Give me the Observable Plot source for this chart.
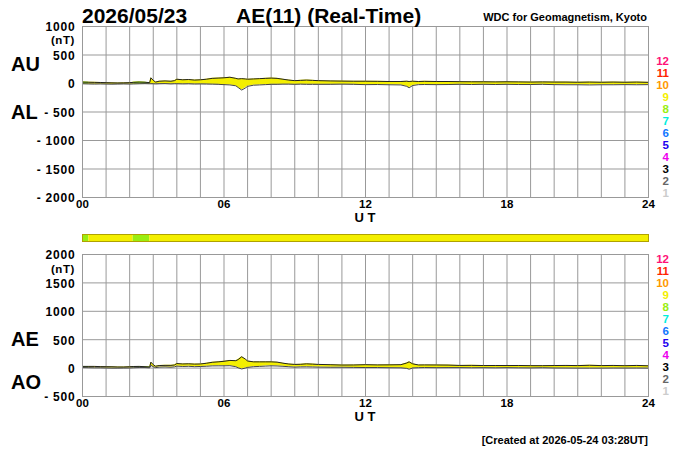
<!DOCTYPE html>
<html><head><meta charset="utf-8">
<script src="https://cdn.jsdelivr.net/npm/d3@7"></script>
<script src="https://cdn.jsdelivr.net/npm/@observablehq/plot@0.6"></script>
<style>
body{margin:0;background:#fff;}
#wrap{position:relative;width:700px;height:450px;overflow:hidden;font-family:"Liberation Sans",Arial,Helvetica,sans-serif;}
#wrap svg{position:absolute;left:0;}
</style></head><body><div id="wrap"></div>
<script>
// ---- data (UT hours, nT) ----
const hours = [0,0.27,0.5,0.75,1,1.25,1.5,1.75,2,2.15,2.4,2.65,2.85,2.9,3,3.1,3.25,3.5,3.75,3.9,4,4.25,4.5,4.75,5,5.25,5.5,5.75,6,6.25,6.5,6.6,6.75,6.9,7,7.25,7.5,7.75,8,8.25,8.5,8.75,9,9.25,9.5,9.75,10,10.5,11,11.5,12,12.5,13,13.5,13.75,13.85,14,14.25,14.5,15,15.5,16,16.5,17,17.5,18,18.5,19,19.5,20,20.5,21,21.5,22,22.5,23,23.5,24];
const au = [25,22,20,18,15,12,10,12,15,20,25,22,15,100,55,25,40,45,40,50,75,65,70,60,65,75,90,95,100,110,90,80,85,80,75,80,85,90,95,90,75,60,50,55,60,55,50,45,42,40,40,38,35,35,40,35,40,35,38,35,35,32,30,30,28,30,28,25,28,25,25,22,25,22,25,22,25,20];
const al = [-5,-8,-10,-8,-10,-12,-10,-8,-10,-8,-5,-3,-5,-5,-5,-8,-5,-3,-8,-5,-5,-8,-6,-10,-8,-10,-12,-15,-20,-25,-40,-70,-115,-80,-50,-30,-25,-20,-15,-15,-12,-12,-15,-12,-15,-15,-15,-15,-12,-15,-20,-18,-22,-25,-50,-75,-35,-20,-18,-20,-18,-15,-18,-15,-18,-15,-18,-18,-15,-20,-22,-22,-25,-22,-22,-20,-22,-20];
// number of contributing stations
const segStart = [0, 0.27, 2.15, 2.85];
const segEnd   = [0.27, 2.15, 2.85, 24];
const segCount = [8, 9, 8, 9];
const legendNums = [12,11,10,9,8,7,6,5,4,3,2,1];
const countColors = {12:"#ff1177",11:"#ff2200",10:"#ff9900",9:"#f4ef00",8:"#99ee11",7:"#00eedd",6:"#1177ff",5:"#2200ee",4:"#ee00ee",3:"#000000",2:"#666666",1:"#cccccc"};
const xTicks = [0,6,12,18,24];
const gridHours = d3.range(0,25,1);
const topYTicks = [-2000,-1500,-1000,-500,0,500,1000];
const botYTicks = [-500,0,500,1000,1500,2000];

const data = hours.map((h,i)=>({h, au:au[i], al:al[i], ae:au[i]-al[i], ao:(au[i]+al[i])/2}));
const segs = segStart.map((s,k)=>({s, e:segEnd[k], c:segCount[k]}));
const fmtY = d => d < 0 ? "- " + (-d) : String(d);
const fmtX = d => String(d).padStart(2,"0");
const FONT = '"Liberation Sans",Arial,Helvetica,sans-serif';

function panel(lo, hi, yDomain, yTicks, plotH){
  const svg = Plot.plot({
    width:700, height:26+plotH+33,
    marginLeft:82, marginRight:52, marginTop:26, marginBottom:33,
    style:{fontFamily:FONT, color:"#000", background:"transparent", overflow:"visible"},
    x:{domain:[0,24], axis:null},
    y:{domain:yDomain, axis:null},
    marks:[
      Plot.gridX(gridHours,{stroke:"#999",strokeOpacity:1}),
      Plot.gridY(yTicks,{stroke:"#999",strokeOpacity:1}),
      Plot.areaY(data,{x:"h", y1:lo, y2:hi, fill:countColors[9]}),
      ...segs.filter(g=>g.c!==9).map(g=>Plot.areaY(data.filter(d=>d.h>=g.s && d.h<=g.e),{x:"h", y1:lo, y2:hi, fill:countColors[g.c]})),
      Plot.lineY(data,{x:"h", y:lo, stroke:"#444", strokeWidth:1}),
      Plot.lineY(data,{x:"h", y:hi, stroke:"#222", strokeWidth:1}),
      Plot.frame({stroke:"#999"}),
      Plot.axisX(xTicks,{tickSize:0, tickPadding:2, tickFormat:fmtX, fontWeight:"bold", fontSize:11.5, label:null}),
      Plot.axisY(yTicks,{tickSize:0, tickPadding:7, tickFormat:fmtY, fontWeight:"bold", fontSize:12, label:null, dy:1})
    ]
  });
  d3.select(svg).selectAll("[aria-label='y-axis tick label'] text").attr("letter-spacing","0.8");
  return svg;
}

const wrap = document.getElementById("wrap");
const top1 = panel("al","au",[-2000,1000],topYTicks,171);
top1.style.top = "0px";
wrap.appendChild(top1);

const bot = panel("ao","ae",[-500,2000],botYTicks,142);
bot.style.top = "228px";
wrap.appendChild(bot);

const bar = Plot.plot({
  width:700, height:7, marginLeft:82, marginRight:52, marginTop:0, marginBottom:0,
  style:{background:"transparent", overflow:"visible"},
  x:{domain:[0,24], axis:null},
  marks:[
    Plot.barX(segs,{x1:"s", x2:"e", fill:d=>countColors[d.c]}),
    Plot.frame({stroke:"#b0a200"})
  ]
});
bar.style.top = "234px";
wrap.appendChild(bar);

// ---- text overlay ----
const ov = d3.select(wrap).append("svg").attr("width",700).attr("height",450)
  .style("top","0px").style("font-family",FONT).style("font-weight","bold");
function t(x,y,s,size,anchor="start",fill="#000",ls=null){
  const e = ov.append("text").attr("x",x).attr("y",y).attr("font-size",size).attr("text-anchor",anchor).attr("fill",fill).text(s);
  if (ls) e.attr("letter-spacing",ls);
  return e;
}
t(82,23,"2026/05/23",21);
t(236,23,"AE(11) (Real-Time)",21);
t(647,21,"WDC for Geomagnetism, Kyoto",11,"end");
t(11,71,"AU",20); t(11,119,"AL",20);
t(11,346,"AE",20); t(11,389,"AO",20);
t(75,44,"(nT)",11.5,"end","#000","0.6");
t(75,273,"(nT)",11.5,"end","#000","0.6");
t(365,222,"U T",13,"middle");
t(365,421,"U T",13,"middle");
legendNums.forEach((n,i)=>{
  t(669,65+12*i,String(n),11.5,"end",countColors[n]);
  t(669,263+12*i,String(n),11.5,"end",countColors[n]);
});
t(648,444,"[Created at 2026-05-24 03:28UT]",11,"end");
</script></body></html>
